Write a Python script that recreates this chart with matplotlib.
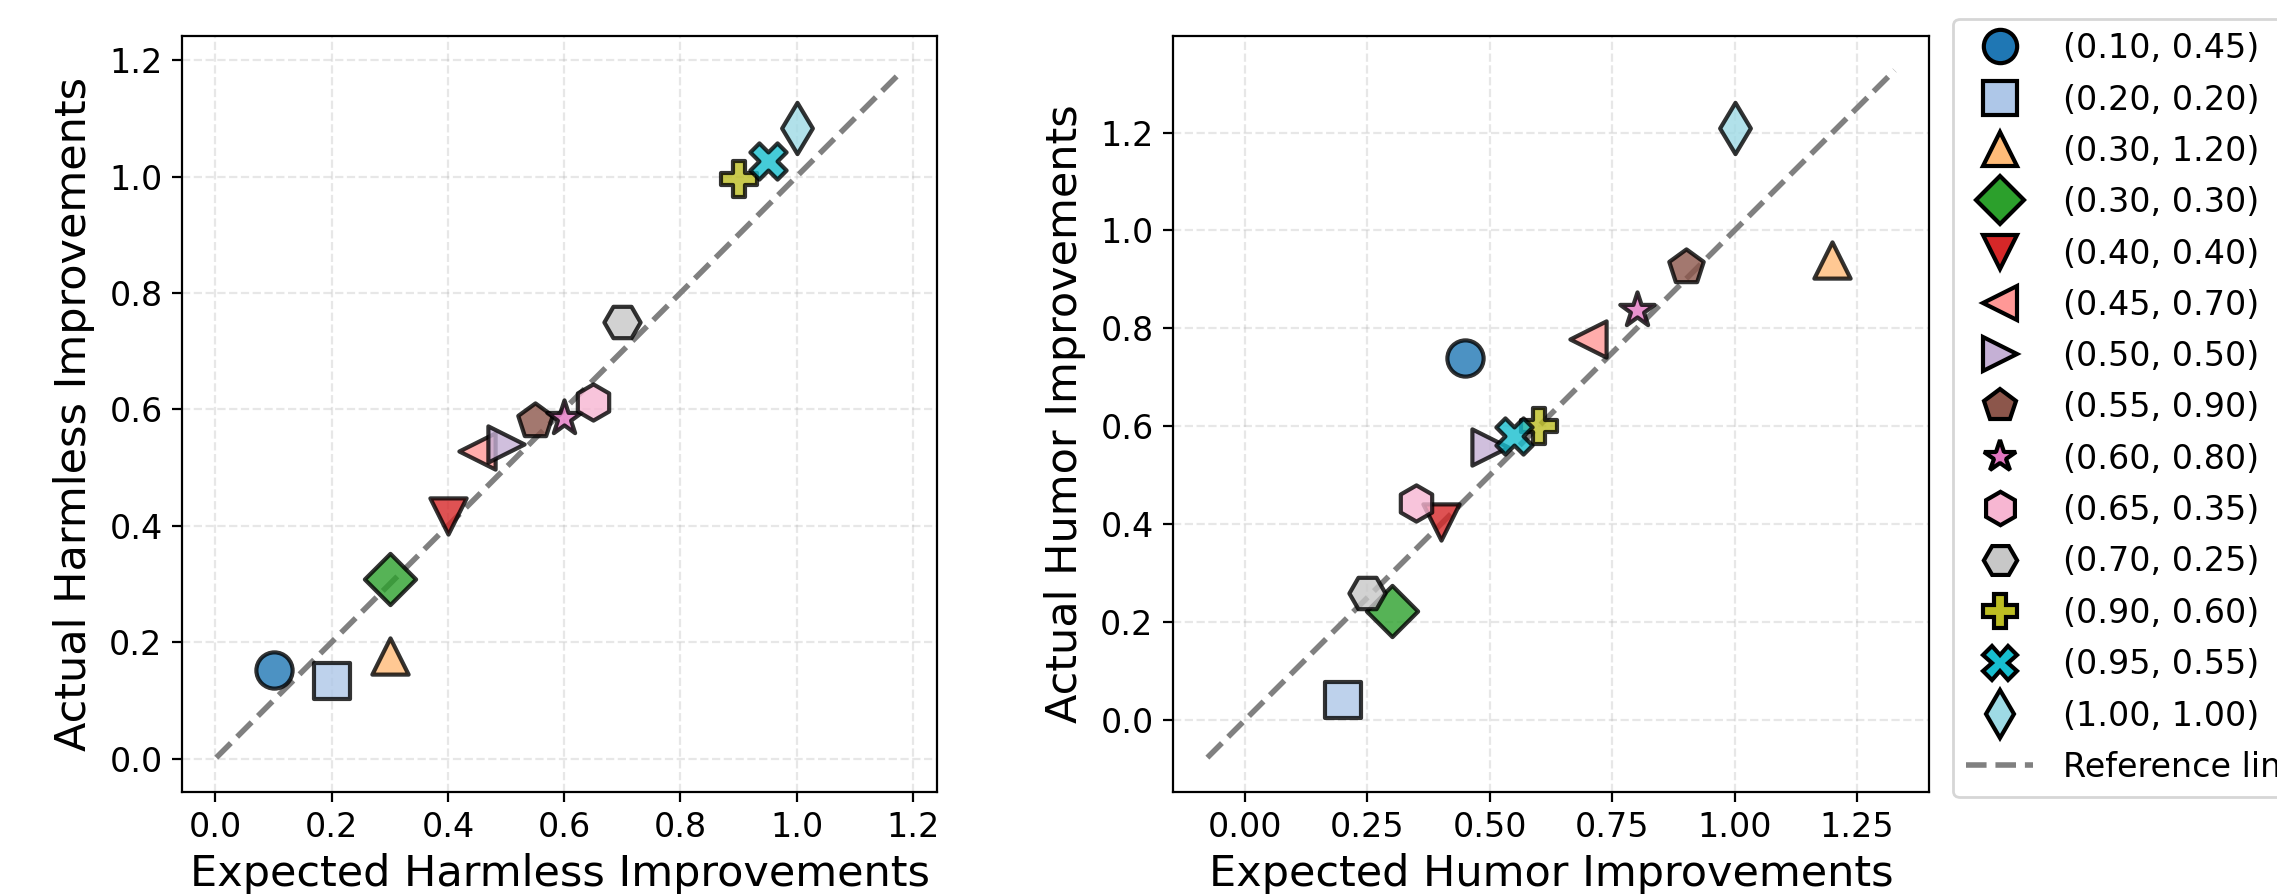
import matplotlib
matplotlib.use("Agg")
import matplotlib.pyplot as plt
from matplotlib.lines import Line2D
from matplotlib.ticker import MultipleLocator
import numpy as np

# Parameter pairs (expected harmless, expected humor) used as legend labels
expected_harmless = [0.10, 0.20, 0.30, 0.30, 0.40, 0.45, 0.50, 0.55, 0.60, 0.65, 0.70, 0.90, 0.95, 1.00]
expected_humor = [0.45, 0.20, 1.20, 0.30, 0.40, 0.70, 0.50, 0.90, 0.80, 0.35, 0.25, 0.60, 0.55, 1.00]

# Measured outcomes
actual_harmless = [0.152, 0.133, 0.176, 0.308, 0.416, 0.528, 0.540, 0.580, 0.585, 0.613, 0.750, 0.995, 1.027, 1.084]
actual_humor = [0.740, 0.040, 0.940, 0.222, 0.405, 0.778, 0.557, 0.925, 0.837, 0.443, 0.259, 0.600, 0.580, 1.210]

markers = ['o', 's', '^', 'D', 'v', '<', '>', 'p', '*', 'h', 'H', 'P', 'X', 'd']
colors = ['#1f77b4', '#aec7e8', '#ffbb78', '#2ca02c', '#d62728', '#ff9896', '#c5b0d5',
          '#8c564b', '#e377c2', '#f7b6d2', '#c7c7c7', '#bcbd22', '#17becf', '#9edae5']
labels = [f"({a:.2f}, {b:.2f})" for a, b in zip(expected_harmless, expected_humor)]

fig = plt.figure(figsize=(2277 / 200, 894 / 200), dpi=200)
ax1 = fig.add_axes([182 / 2277, 1 - 792 / 894, 755 / 2277, 756 / 894])
ax2 = fig.add_axes([1173 / 2277, 1 - 792 / 894, 756 / 2277, 756 / 894])


def panel(ax, xs, ys, xlabel, ylabel, xstep):
    for x, y, m, c in zip(xs, ys, markers, colors):
        ax.scatter([x], [y], marker=m, s=170, c=[c], edgecolors='black',
                   linewidths=1.5, alpha=0.8, zorder=3)
    allv = np.concatenate([xs, ys])
    lo, hi = allv.min(), allv.max()
    pad = 0.1 * (hi - lo)
    ax.plot([lo - pad, hi + pad], [lo - pad, hi + pad], '--', color='gray',
            linewidth=2, zorder=2)
    ax.xaxis.set_major_locator(MultipleLocator(xstep))
    ax.yaxis.set_major_locator(MultipleLocator(0.2))
    ax.grid(True, linestyle='--', alpha=0.3)
    ax.set_xlabel(xlabel, fontsize=15.5, labelpad=3)
    ax.set_ylabel(ylabel, fontsize=15.5, labelpad=5)
    ax.tick_params(labelsize=12)


panel(ax1, np.array(expected_harmless), np.array(actual_harmless),
      'Expected Harmless Improvements', 'Actual Harmless Improvements', 0.2)
panel(ax2, np.array(expected_humor), np.array(actual_humor),
      'Expected Humor Improvements', 'Actual Humor Improvements', 0.25)

handles = [Line2D([], [], marker=m, color=c, markeredgecolor='black', markersize=12,
                  markeredgewidth=1.5, linestyle='None') for m, c in zip(markers, colors)]
handles.append(Line2D([], [], linestyle='--', color='gray', linewidth=2))
leg_labels = labels + ['Reference line']
fig.legend(handles, leg_labels, loc='center left', fontsize=12,
           bbox_to_anchor=(1953 / 2277, 1 - 408 / 894), bbox_transform=fig.transFigure,
           borderaxespad=0, labelspacing=0.55, handletextpad=0.9)

fig.savefig('out.png', dpi=200)
